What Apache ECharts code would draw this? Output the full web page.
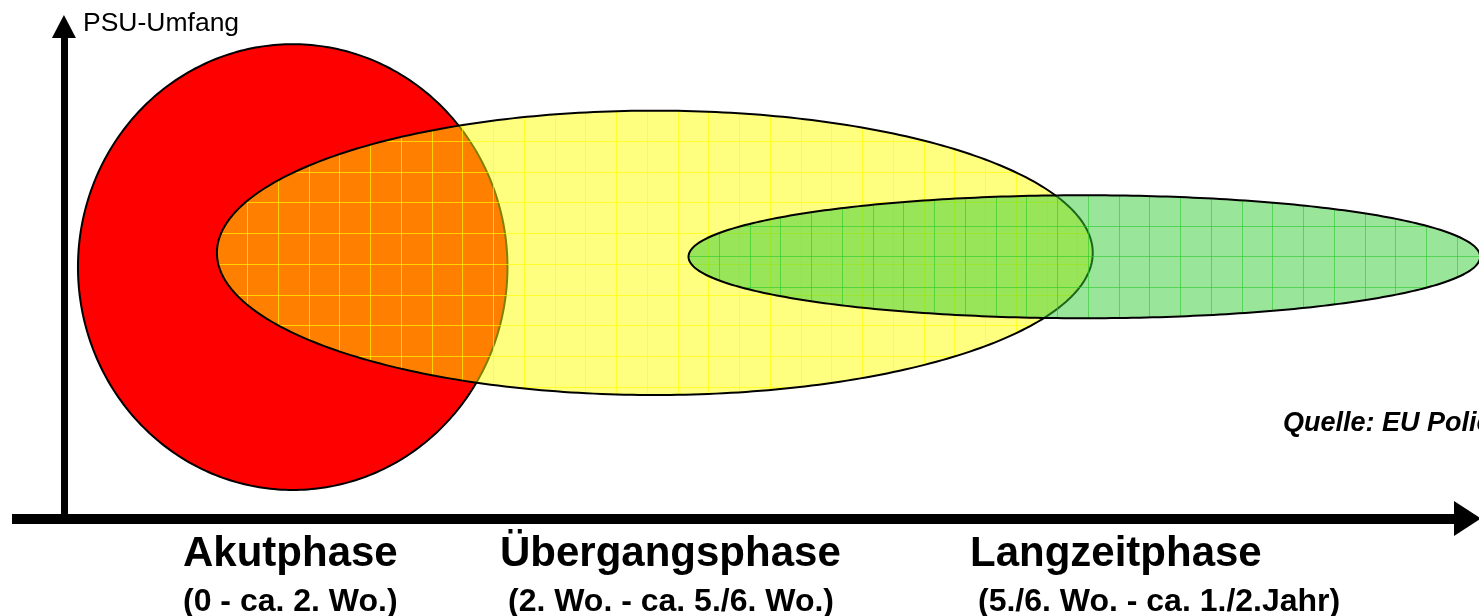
<!DOCTYPE html>
<html><head><meta charset="utf-8">
<script src="https://cdn.jsdelivr.net/npm/echarts@6/dist/echarts.min.js"></script>
<style>html,body{margin:0;padding:0;background:#fff;overflow:hidden}#c{width:1479px;height:616px}</style>
</head><body><div id="c"></div>
<script>
// ---- data ----
const phases = ['Akutphase', 'Übergangsphase', 'Langzeitphase'];
const periods = ['(0 - ca. 2. Wo.)', '(2. Wo. - ca. 5./6. Wo.)', '(5./6. Wo. - ca. 1./2.Jahr)'];
const centerX = [16.3, 42.1, 72.7];
const centerY = [51.1, 54.0, 53.2];
const radiusX = [15.3, 31.2, 28.2];
const radiusY = [45.3, 28.9, 12.5];
const yAxisName = 'PSU-Umfang';
const sourceNote = 'Quelle: EU Policy';

// ---- styles ----
const fills = ['#ff0000', 'rgba(255,255,0,0.5)', 'rgba(51,204,51,0.5)'];
const gridColors = [null, 'rgba(255,255,0,0.65)', 'rgba(40,200,40,0.6)'];
const CELL = 30.75;
const FONT = '"Liberation Sans", Arial, Helvetica, sans-serif';

function ellipsePoints(cx, cy, rx, ry) {
  const pts = [];
  for (let k = 0; k < 360; k++) {
    const t = k / 360 * 2 * Math.PI;
    pts.push([cx + rx * Math.cos(t), cy + ry * Math.sin(t)]);
  }
  return pts;
}

function renderItem(params, api) {
  const i = params.dataIndex;
  const c = api.coord([api.value(0), api.value(1)]);
  const s = api.size([api.value(2), api.value(3)]);
  const cx = c[0], cy = c[1], rx = s[0], ry = s[1];
  const pts = ellipsePoints(cx, cy, rx, ry);
  const children = [{ type: 'polygon', shape: { points: pts }, style: { fill: fills[i], stroke: null } }];
  if (gridColors[i]) {
    for (let x = cx - rx + CELL; x < cx + rx; x += CELL) {
      const u = (x - cx) / rx;
      const h = ry * Math.sqrt(Math.max(0, 1 - u * u));
      const xx = Math.floor(x) + 0.5;
      children.push({ type: 'line', shape: { x1: xx, y1: cy - h, x2: xx, y2: cy + h }, style: { stroke: gridColors[i], lineWidth: 1 } });
    }
    for (let y = cy - ry + CELL; y < cy + ry; y += CELL) {
      const v = (y - cy) / ry;
      const w = rx * Math.sqrt(Math.max(0, 1 - v * v));
      const yy = Math.floor(y) + 0.5;
      children.push({ type: 'line', shape: { x1: cx - w, y1: yy, x2: cx + w, y2: yy }, style: { stroke: gridColors[i], lineWidth: 1 } });
    }
  }
  children.push({ type: 'polygon', shape: { points: pts }, style: { fill: null, stroke: '#000', lineWidth: 2 } });
  return { type: 'group', children: children };
}

const seriesData = phases.map((p, i) => [centerX[i], centerY[i], radiusX[i], radiusY[i]]);

const labelLeft = [183, 500, 970];
const subLeft = [183, 508, 978];
const graphics = [];
phases.forEach((p, i) => {
  graphics.push({ type: 'text', x: labelLeft[i], y: 554, silent: true,
    style: { text: p, font: 'bold 42px ' + FONT, fill: '#000', textAlign: 'left', textVerticalAlign: 'middle', align: 'left', verticalAlign: 'middle' } });
  graphics.push({ type: 'text', x: subLeft[i], y: 602, silent: true,
    style: { text: periods[i], font: 'bold 32px ' + FONT, fill: '#000', textAlign: 'left', textVerticalAlign: 'middle', align: 'left', verticalAlign: 'middle' } });
});
graphics.push({ type: 'text', x: 83, y: 24, silent: true,
  style: { text: yAxisName, font: '26.5px ' + FONT, fill: '#000', textAlign: 'left', textVerticalAlign: 'middle', align: 'left', verticalAlign: 'middle' } });
graphics.push({ type: 'text', x: 1283, y: 424, silent: true,
  style: { text: sourceNote, font: 'italic bold 27px ' + FONT, fill: '#000', textAlign: 'left', textVerticalAlign: 'middle', align: 'left', verticalAlign: 'middle' } });

const chart = echarts.init(document.getElementById('c'), null, { renderer: 'canvas' });
chart.setOption({
  animation: false,
  backgroundColor: '#fff',
  grid: { left: 12, right: 11.5, top: 26.5, bottom: 97.5, containLabel: false },
  xAxis: {
    type: 'value', min: -3.7, max: 100,
    axisLine: { show: true, onZero: true, symbol: ['none', 'triangle'], symbolSize: [35, 27], lineStyle: { color: '#000', width: 10, cap: 'butt' } },
    axisTick: { show: false }, axisLabel: { show: false }, splitLine: { show: false }
  },
  yAxis: {
    type: 'value', min: 0, max: 100,
    axisLine: { show: true, onZero: true, symbol: ['none', 'triangle'], symbolSize: [24, 23], lineStyle: { color: '#000', width: 7, cap: 'butt' } },
    axisTick: { show: false }, axisLabel: { show: false }, splitLine: { show: false }
  },
  series: [{
    type: 'custom', clip: false, silent: true,
    renderItem: renderItem,
    encode: { x: 0, y: 1 },
    data: seriesData,
    z: 1
  }],
  graphic: graphics
});
</script></body></html>
